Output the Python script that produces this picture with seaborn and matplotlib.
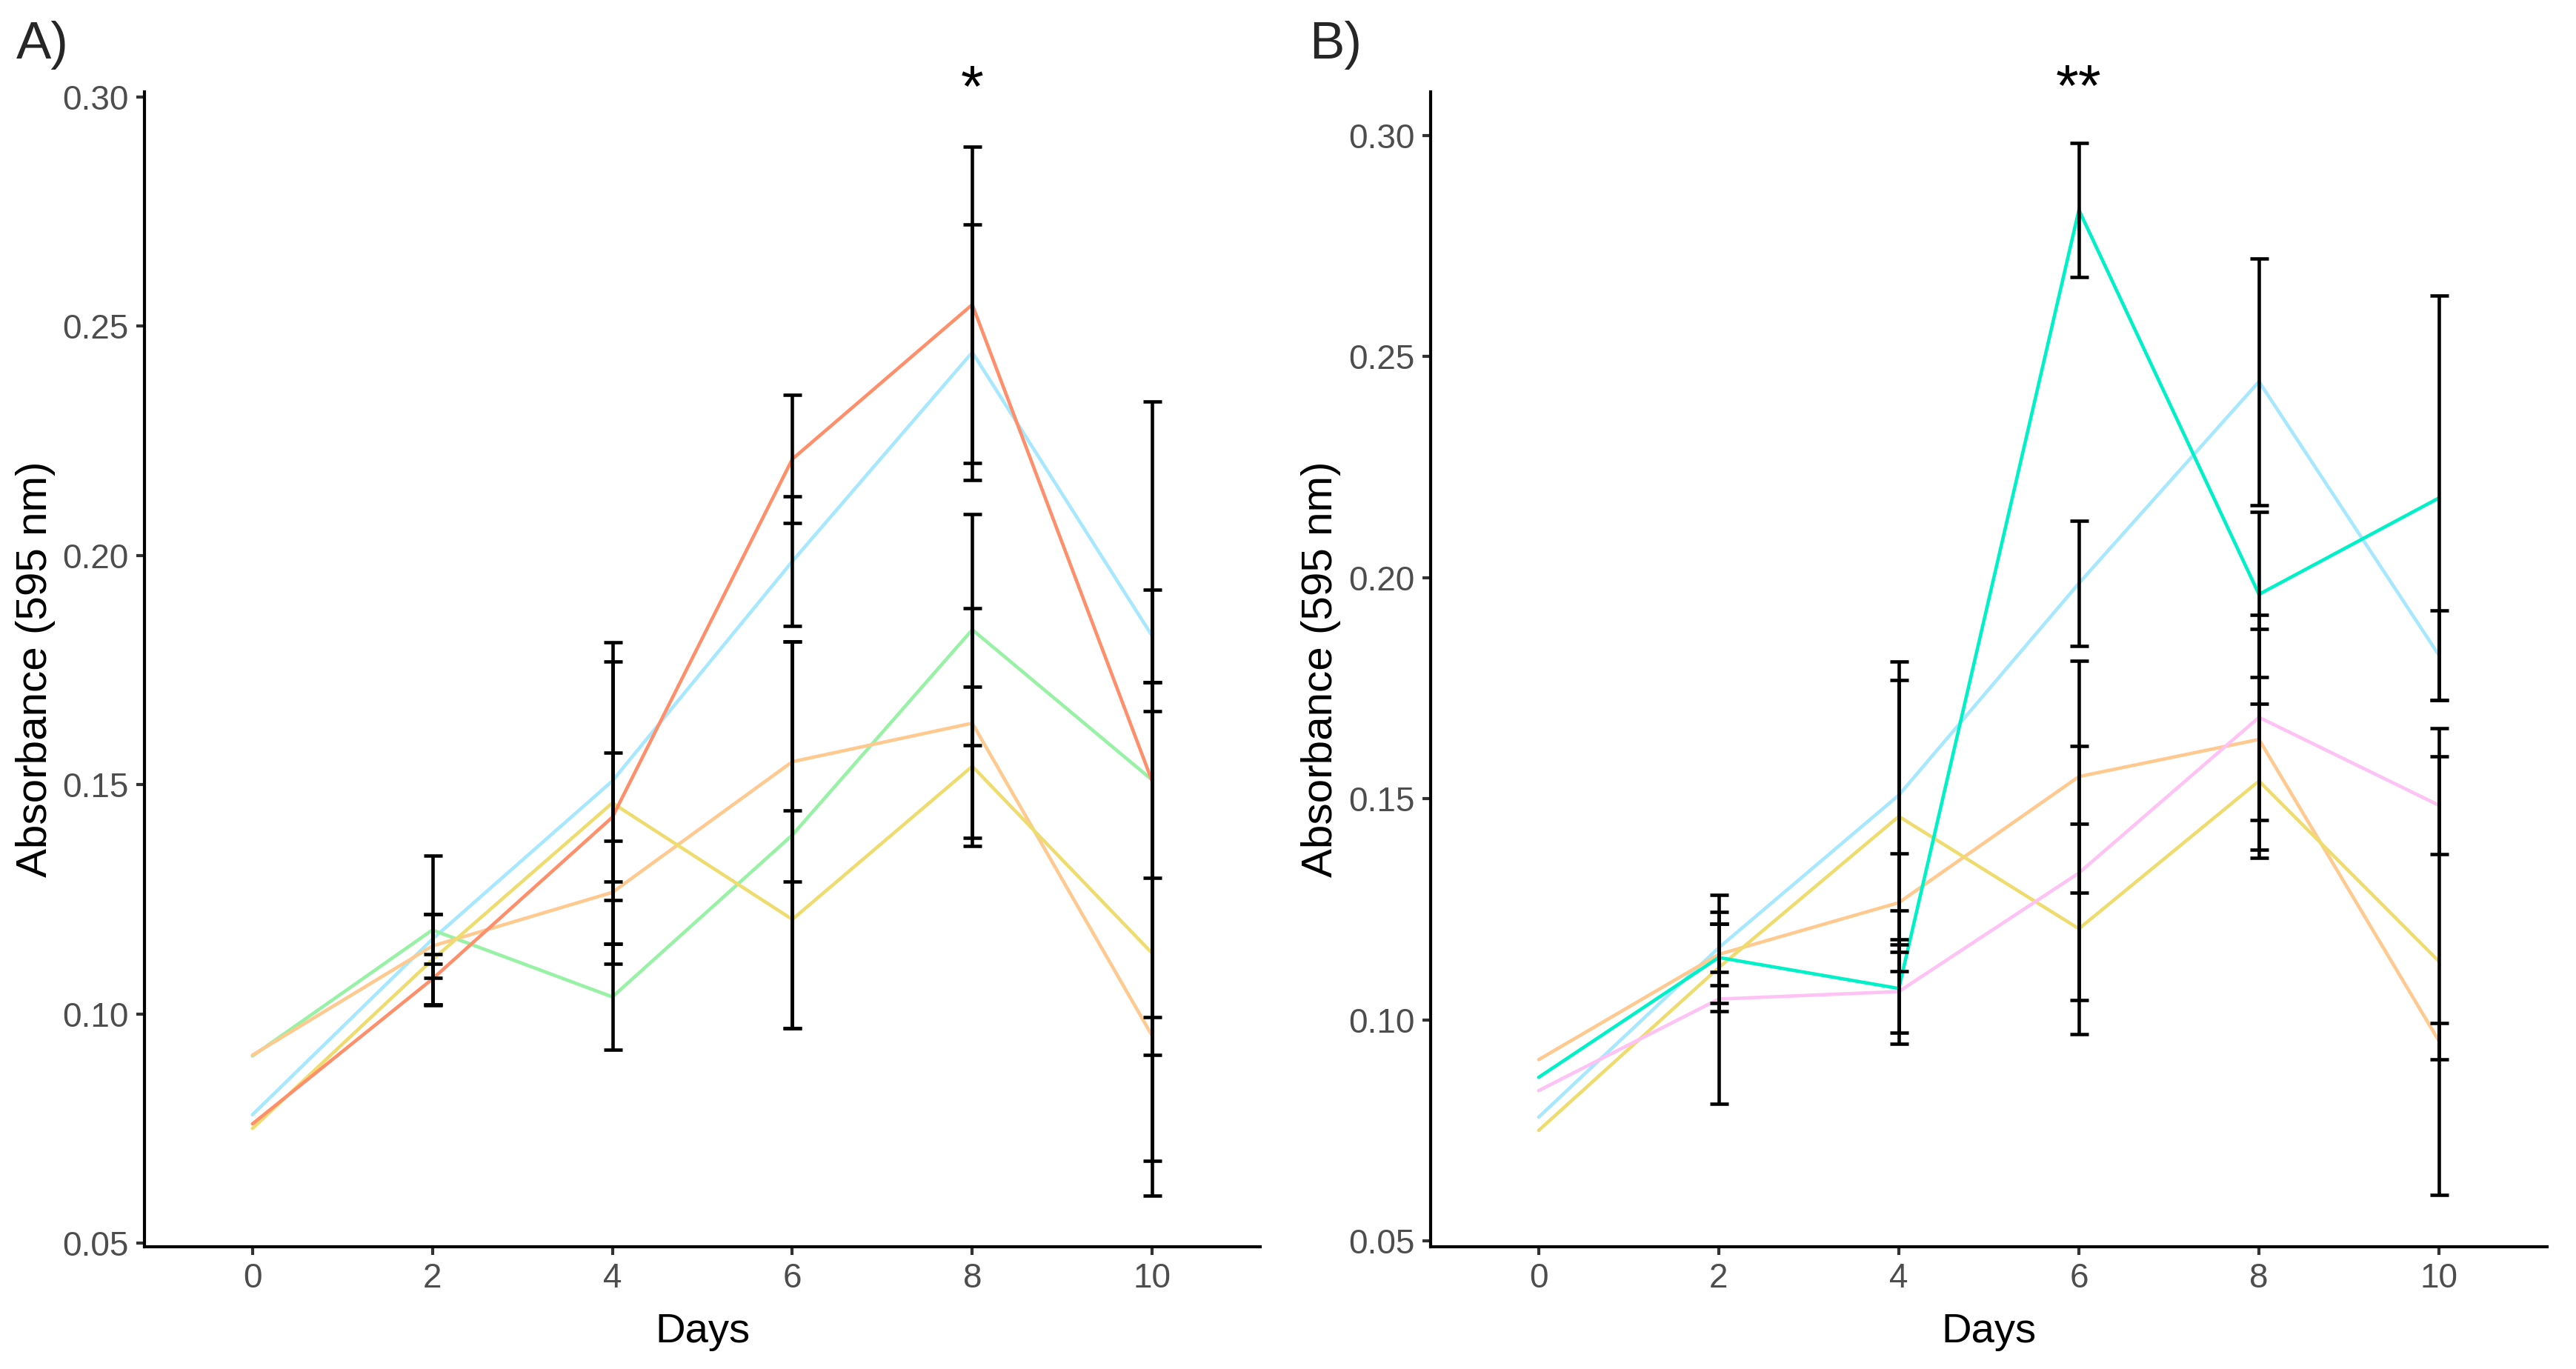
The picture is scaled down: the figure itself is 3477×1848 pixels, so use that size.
import numpy as np
import pandas as pd
import matplotlib
matplotlib.use("Agg")
import matplotlib.pyplot as plt
import seaborn as sns

# ---------------- data ----------------
days = [0, 2, 4, 6, 8, 10]

# shared series (appear in both panels)
lightblue_mean = [0.0780, 0.1163, 0.1508, 0.1987, 0.2443, 0.1824]
lightblue_sd = [np.nan, 0.0054, 0.0260, 0.0141, 0.0279, 0.0101]
peach_mean = [0.0910, 0.1148, 0.1265, 0.1550, 0.1634, 0.0952]
peach_sd = [np.nan, 0.0069, 0.0112, 0.0262, 0.0250, 0.0041]
yellow_mean = [0.0750, 0.1118, 0.1460, 0.1206, 0.1540, 0.1132]
yellow_sd = [np.nan, 0.0099, 0.0350, 0.0238, 0.0174, 0.0528]

# panel A only
salmon_mean = [0.0760, 0.1076, 0.1429, 0.2210, 0.2547, 0.1507]
salmon_sd = [np.nan, 0.0055, 0.0140, 0.0140, 0.0345, 0.0828]
green_mean = [0.0908, 0.1183, 0.1037, 0.1390, 0.1838, 0.1510]
green_sd = [np.nan, 0.0162, 0.0116, 0.0422, 0.0252, 0.0213]

# panel B only
teal_mean = [0.0870, 0.1141, 0.1071, 0.2831, 0.1962, 0.2180]
teal_sd = [np.nan, 0.0103, 0.0100, 0.0151, 0.0187, 0.0457]
pink_mean = [0.0840, 0.1047, 0.1064, 0.1332, 0.1684, 0.1485]
pink_sd = [np.nan, 0.0236, 0.0118, 0.0287, 0.0232, 0.0110]

y_ticks = [0.05, 0.10, 0.15, 0.20, 0.25, 0.30]
x_ticks = [0, 2, 4, 6, 8, 10]

colors = {
    "salmon": "#FF8F6B",
    "lightblue": "#A6E8FF",
    "green": "#98F2A6",
    "peach": "#FFC98F",
    "yellow": "#EEDD6E",
    "teal": "#00F0C8",
    "pink": "#FFC2F5",
}

panel_A = {
    "lightblue": (lightblue_mean, lightblue_sd),
    "green": (green_mean, green_sd),
    "peach": (peach_mean, peach_sd),
    "yellow": (yellow_mean, yellow_sd),
    "salmon": (salmon_mean, salmon_sd),
}
panel_B = {
    "lightblue": (lightblue_mean, lightblue_sd),
    "peach": (peach_mean, peach_sd),
    "yellow": (yellow_mean, yellow_sd),
    "pink": (pink_mean, pink_sd),
    "teal": (teal_mean, teal_sd),
}

# ---------------- style ----------------
sns.set_theme(style="ticks")
plt.rcParams["font.family"] = ["Liberation Sans", "DejaVu Sans"]

W, H, DPI = 3477, 1848, 300
fig = plt.figure(figsize=(W / DPI, H / DPI), dpi=DPI)

ax_bottom = 1 - 1683 / H
ax_height = (1683 - 124) / H
axA = fig.add_axes([195 / W, ax_bottom, 1506 / W, ax_height])
axB = fig.add_axes([1931 / W, ax_bottom, 1507 / W, ax_height])


def draw_panel(ax, panel, ylim, star_x, star_y, star_text):
    rows = []
    for name, (m, s) in panel.items():
        for d, v in zip(days, m):
            rows.append({"day": d, "value": v, "group": name})
    df = pd.DataFrame(rows)
    order = list(panel.keys())
    sns.lineplot(data=df, x="day", y="value", hue="group", hue_order=order,
                 palette={k: colors[k] for k in order}, estimator=None,
                 legend=False, linewidth=1.1, ax=ax, zorder=2)
    for name, (m, s) in panel.items():
        m = np.asarray(m)
        s = np.asarray(s)
        ok = ~np.isnan(s)
        ax.errorbar(np.asarray(days)[ok], m[ok], yerr=s[ok], fmt="none",
                    ecolor="black", elinewidth=1.1, capsize=3.0,
                    capthick=1.1, zorder=3)
    ax.set_xlim(-1.2, 11.2)
    ax.set_ylim(*ylim)
    ax.set_xticks(x_ticks)
    ax.set_yticks(y_ticks)
    ax.set_yticklabels([f"{t:.2f}" for t in y_ticks])
    for side in ("top", "right"):
        ax.spines[side].set_visible(False)
    for side in ("left", "bottom"):
        ax.spines[side].set_linewidth(1.0)
        ax.spines[side].set_color("black")
    ax.tick_params(axis="both", length=2.6, width=1.0, color="#333333",
                   labelsize=11, labelcolor="#4D4D4D", pad=2.5)
    ax.set_xlabel("Days", fontsize=13.5, color="black")
    ax.set_ylabel("Absorbance (595 nm)", fontsize=14, color="black")
    ax.xaxis.set_label_coords(0.5, -0.057)
    ax.yaxis.set_label_coords(-0.080, 0.5)
    ax.text(star_x, star_y, star_text, ha="center", va="center",
            fontsize=19, color="black", clip_on=False)
    ax.set_facecolor("white")


draw_panel(axA, panel_A, (0.0492, 0.3011), 8, 0.3012, "*")
draw_panel(axB, panel_B, (0.0487, 0.3098), 6, 0.3100, "**")

fig.text(22 / W, 1 - 28 / H, "A)", fontsize=17, ha="left", va="top")
fig.text(1767 / W, 1 - 28 / H, "B)", fontsize=17, ha="left", va="top")

fig.savefig("out.png", dpi=DPI, facecolor="white")
